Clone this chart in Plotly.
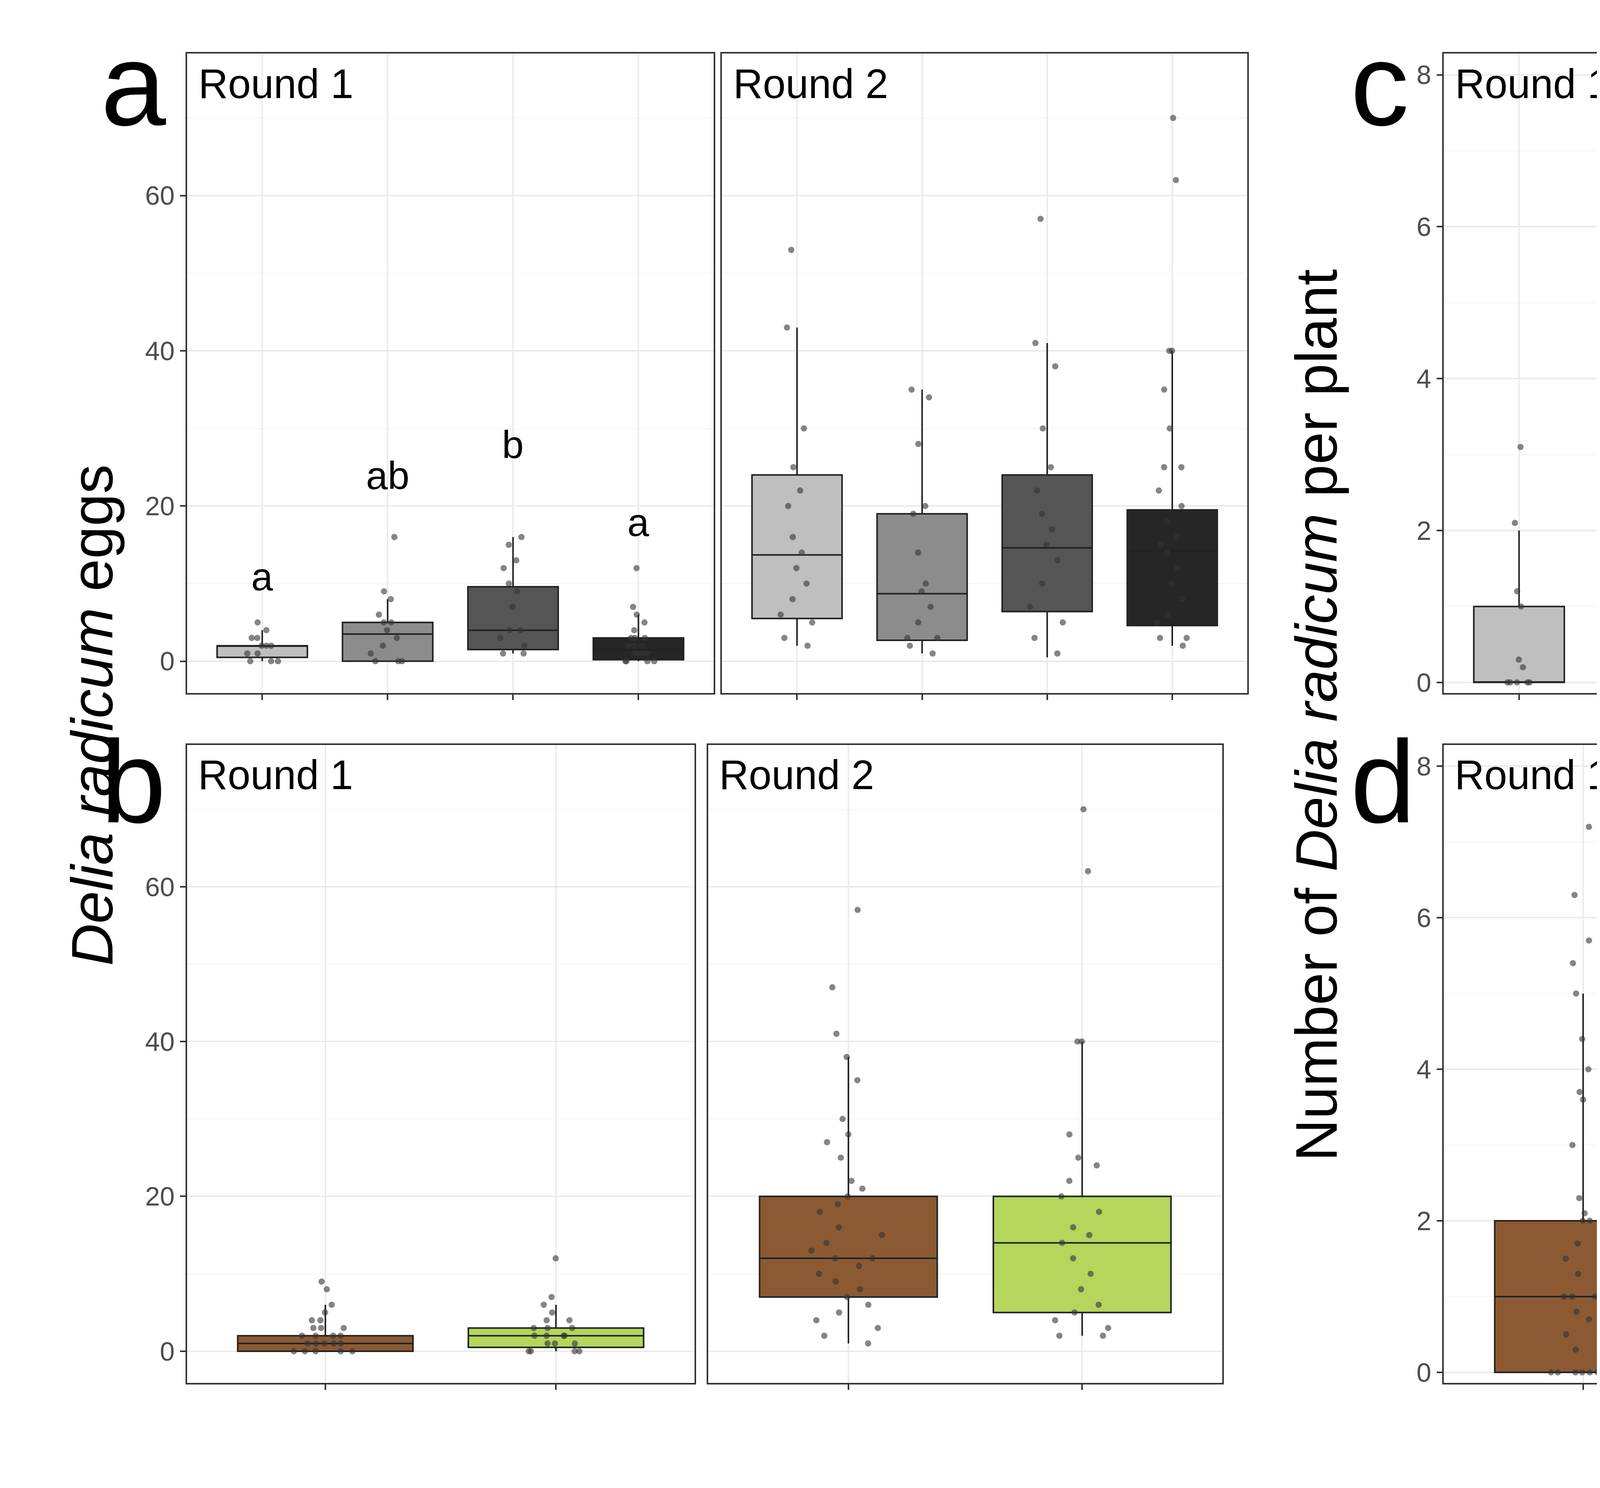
import plotly.graph_objects as go

# ---------- data ----------
fields = ["1", "2", "3", "10"]
field_colors = ["#BFBFBF", "#8C8C8C", "#555555", "#262626"]
treatments = ["Ref", "Strip"]
treat_colors = ["#8B5A33", "#B5D55D"]

# box stats: q1, median, q3, lower whisker, upper whisker
eggs_field_r1 = [[0.5, 2, 2, 0, 4], [0, 3.5, 5, 0, 8], [1.5, 4, 9.6, 1, 16], [0.2, 1.5, 3, 0, 6]]
eggs_field_r2 = [[5.5, 13.7, 24, 2, 43], [2.7, 8.7, 19, 1, 35], [6.4, 14.6, 24, 0.5, 41], [4.6, 14.2, 19.5, 2, 40]]
eggs_treat_r1 = [[0, 1, 2, 0, 6], [0.5, 2, 3, 0, 6]]
eggs_treat_r2 = [[7, 12, 20, 1, 38], [5, 14, 20, 2, 40]]
larv_field_r1 = [[0, 0, 1, 0, 2], [0, 0, 1, 0, 1], [0, 0, 0, 0, 0], [0, 0, 1.25, 0, 3]]
larv_field_r2 = [[0, 1, 2, 0, 4], [0, 0, 1, 0, 2], [0, 0, 0, 0, 0], [0.5, 2, 2.5, 0, 4]]
larv_treat_r1 = [[0, 1, 2, 0, 5], [0, 1, 1.25, 0, 3]]
larv_treat_r2 = [[0, 1, 2.25, 0, 5], [0.5, 2, 2.5, 0, 4]]

# raw points
eggs_pts_field_r1 = [
    [0, 0, 0, 1, 1, 2, 2, 2, 3, 3, 4, 5],
    [0, 0, 0, 1, 2, 3, 4, 5, 5, 6, 8, 9, 16],
    [1, 1, 2, 3, 4, 4, 7, 9, 10, 12, 13, 15, 16],
    [0, 0, 0, 0, 1, 1, 1, 1, 2, 2, 2, 3, 3, 3, 4, 5, 6, 7, 12],
]
eggs_pts_field_r2 = [
    [2, 3, 5, 6, 8, 10, 12, 14, 16, 20, 22, 25, 30, 43, 53],
    [1, 2, 3, 3, 5, 7, 9, 10, 14, 19, 20, 28, 34, 35],
    [1, 3, 5, 7, 10, 13, 15, 17, 19, 22, 25, 30, 38, 41, 57],
    [2, 3, 3, 5, 6, 8, 10, 12, 14, 15, 16, 18, 20, 22, 25, 25, 30, 35, 40, 40, 62, 70],
]
eggs_pts_treat_r1 = [
    [0, 0, 0, 0, 0, 1, 1, 1, 1, 1, 2, 2, 2, 2, 3, 3, 3, 4, 4, 5, 6, 8, 9],
    [0, 0, 0, 0, 1, 1, 1, 2, 2, 2, 2, 3, 3, 3, 4, 4, 5, 6, 7, 12],
]
eggs_pts_treat_r2 = [
    [1, 2, 3, 4, 5, 6, 7, 8, 9, 10, 11, 12, 12, 13, 14, 15, 16, 18, 19, 20, 21, 22, 25, 27, 28, 30, 35, 38, 41, 47, 57],
    [2, 2, 3, 4, 5, 6, 8, 10, 12, 14, 15, 16, 18, 20, 22, 24, 25, 28, 40, 40, 62, 70],
]
larv_pts_field_r1 = [
    [0, 0, 0, 0, 0, 0.2, 0.3, 1, 1.2, 2.1, 3.1],
    [0, 0, 0, 0, 0, 0.2, 1, 1.2, 1.4, 6],
    [0, 0, 0, 0, 0, 0, 0.1, 0.3, 1, 2.1, 2.2],
    [0, 0, 0, 0, 0, 0.3, 1, 1, 1.2, 2.3, 3, 3.4, 4.8],
]
larv_pts_field_r2 = [
    [0, 0, 0, 0.2, 0.8, 1, 1, 1.2, 1.8, 2, 2.9, 3.8, 4.1],
    [0, 0, 0, 0, 0.2, 0.8, 1, 1, 1.2, 1.4, 2.4],
    [0, 0, 0, 0, 0, 0.2, 0.3, 0.8, 3.1],
    [0, 1, 1.2, 1.8, 2, 2.2, 2.4, 3, 4.2, 4.3, 6],
]
larv_pts_treat_r1 = [
    [0, 0, 0, 0, 0, 0, 0, 0, 0.3, 0.5, 0.7, 0.8, 1, 1, 1, 1.2, 1.3, 1.5, 1.7, 2, 2, 2.1, 2.3, 3, 3.6, 3.7, 4, 4.4, 5, 5.4, 5.7, 6.3, 7.2],
    [0, 0, 0, 0, 0.3, 0.7, 1, 1, 1.2, 1.3, 2.2, 3.2, 3.3, 4.8],
]
larv_pts_treat_r2 = [
    [0, 0, 0, 0, 0, 0, 0, 0.4, 0.6, 0.8, 1, 1, 1.2, 1.4, 1.6, 2, 2, 2.2, 2.5, 2.8, 3, 3.2, 3.3, 3.8, 4, 5, 5.1],
    [0, 0, 0.2, 0.9, 1.7, 2, 2.1, 2.2, 3.3, 4.2, 4.4, 6],
]

letters_a = ["a", "ab", "b", "a"]
letters_a_y = [8, 21, 25, 15]
letters_c = ["bc", "ab", "a", "c"]
letters_c_y = [4.5, 2.75, 1.2, 4.6]

# ---------- layout ----------
panels = [
    # (xdomain, ydomain, yrange, title, stats, points, colors, names, legend)
    ([0.0665, 0.257], [0.535, 0.966], [-4.1, 78.3], "Round 1", eggs_field_r1, eggs_pts_field_r1, field_colors, fields, "legend"),
    ([0.260, 0.450], [0.535, 0.966], [-4.1, 78.3], "Round 2", eggs_field_r2, eggs_pts_field_r2, field_colors, fields, None),
    ([0.0665, 0.250], [0.070, 0.500], [-4.1, 78.3], "Round 1", eggs_treat_r1, eggs_pts_treat_r1, treat_colors, treatments, "legend2"),
    ([0.255, 0.441], [0.070, 0.500], [-4.1, 78.3], "Round 2", eggs_treat_r2, eggs_pts_treat_r2, treat_colors, treatments, None),
    ([0.521, 0.712], [0.535, 0.966], [-0.14, 8.28], "Round 1", larv_field_r1, larv_pts_field_r1, field_colors, fields, None),
    ([0.715, 0.906], [0.535, 0.966], [-0.14, 8.28], "Round 2", larv_field_r2, larv_pts_field_r2, field_colors, fields, None),
    ([0.521, 0.706], [0.070, 0.500], [-0.14, 8.28], "Round 1", larv_treat_r1, larv_pts_treat_r1, treat_colors, treatments, None),
    ([0.710, 0.897], [0.070, 0.500], [-0.14, 8.28], "Round 2", larv_treat_r2, larv_pts_treat_r2, treat_colors, treatments, None),
]

fig = go.Figure()
layout = {}
annotations = []
for i, (xd, yd, yr, title, stats, pts, cols, names, leg) in enumerate(panels, start=1):
    sfx = "" if i == 1 else str(i)
    xa, ya = "x" + sfx, "y" + sfx
    n = len(stats)
    bw = 0.72 if n == 4 else 0.76
    for j in range(n):
        q1, med, q3, lo, hi = stats[j]
        fig.add_trace(go.Box(
            x=[j + 1], q1=[q1], median=[med], q3=[q3], lowerfence=[lo], upperfence=[hi],
            fillcolor=cols[j], line=dict(color="#222222", width=4), width=bw,
            name=names[j], showlegend=leg is not None, legend=leg if leg else "legend",
            xaxis=xa, yaxis=ya, whiskerwidth=0,
        ))
        fig.add_trace(go.Box(
            x=[j + 1] * len(pts[j]), y=pts[j], boxpoints="all", jitter=0.45, pointpos=0,
            fillcolor="rgba(0,0,0,0)", line=dict(color="rgba(0,0,0,0)", width=0),
            marker=dict(color="#333333", size=16, opacity=0.6),
            width=bw, showlegend=False, xaxis=xa, yaxis=ya,
        ))
    left = i in (1, 3, 5, 7)
    dtick = 20 if i <= 4 else 2
    layout[f"xaxis{sfx}"] = dict(
        domain=xd, anchor=ya, range=[0.4, n + 0.6], tickvals=list(range(1, n + 1)), ticktext=[""] * n,
        ticks="outside", ticklen=14, tickwidth=4, tickcolor="#333333",
        showline=True, mirror=True, linecolor="#333333", linewidth=4,
        showgrid=True, gridcolor="#EBEBEB", gridwidth=4, zeroline=False,
    )
    layout[f"yaxis{sfx}"] = dict(
        domain=yd, anchor=xa, range=yr, dtick=dtick, showticklabels=left,
        ticks="outside" if left else "", ticklen=14, tickwidth=4, tickcolor="#333333",
        tickfont=dict(size=68, color="#4D4D4D", family="Liberation Sans"),
        showline=True, mirror=True, linecolor="#333333", linewidth=4,
        showgrid=True, gridcolor="#EBEBEB", gridwidth=4, zeroline=False,
        minor=dict(showgrid=True, gridcolor="#F4F4F4", gridwidth=2, dtick=dtick / 2),
    )
    annotations.append(dict(text=title, xref=f"{xa} domain", yref=f"{ya} domain", x=0.02, y=0.99,
                            xanchor="left", yanchor="top", showarrow=False,
                            font=dict(size=105, color="black", family="Liberation Sans")))

for j in range(4):
    annotations.append(dict(text=letters_a[j], xref="x", yref="y", x=j + 1, y=letters_a_y[j],
                            showarrow=False, yanchor="bottom", font=dict(size=100, color="black", family="Liberation Sans")))
    annotations.append(dict(text=letters_c[j], xref="x6", yref="y6", x=j + 1, y=letters_c_y[j],
                            showarrow=False, yanchor="bottom", font=dict(size=100, color="black", family="Liberation Sans")))

for lab, x, y in [("a", 0.035, 0.99), ("b", 0.035, 0.52), ("c", 0.487, 0.99), ("d", 0.487, 0.52)]:
    annotations.append(dict(text=lab, xref="paper", yref="paper", x=x, y=y, xanchor="left", yanchor="top",
                            showarrow=False, font=dict(size=300, color="black", family="Liberation Sans")))

annotations.append(dict(text="<i>Delia radicum</i> eggs", xref="paper", yref="paper", x=0.02, y=0.52,
                        textangle=-90, showarrow=False, font=dict(size=150, color="black", family="Liberation Sans")))
annotations.append(dict(text="Number of <i>Delia radicum</i> per plant", xref="paper", yref="paper", x=0.475, y=0.52,
                        textangle=-90, showarrow=False, font=dict(size=150, color="black", family="Liberation Sans")))

legfont = dict(size=78, color="black", family="Liberation Sans")
fig.update_layout(
    **layout,
    annotations=annotations,
    boxmode="overlay",
    width=7078, height=3809,
    margin=dict(l=0, r=0, t=0, b=0),
    plot_bgcolor="white", paper_bgcolor="white",
    legend=dict(title=dict(text="Field", font=dict(size=100, family="Liberation Sans")), font=legfont,
                x=0.912, y=0.975, xanchor="left", yanchor="top", itemwidth=60, tracegroupgap=30),
    legend2=dict(title=dict(text="Treatment", font=dict(size=100, family="Liberation Sans")), font=legfont,
                 x=0.912, y=0.505, xanchor="left", yanchor="top", itemwidth=60, tracegroupgap=30),
)

fig.write_html("out.html")
